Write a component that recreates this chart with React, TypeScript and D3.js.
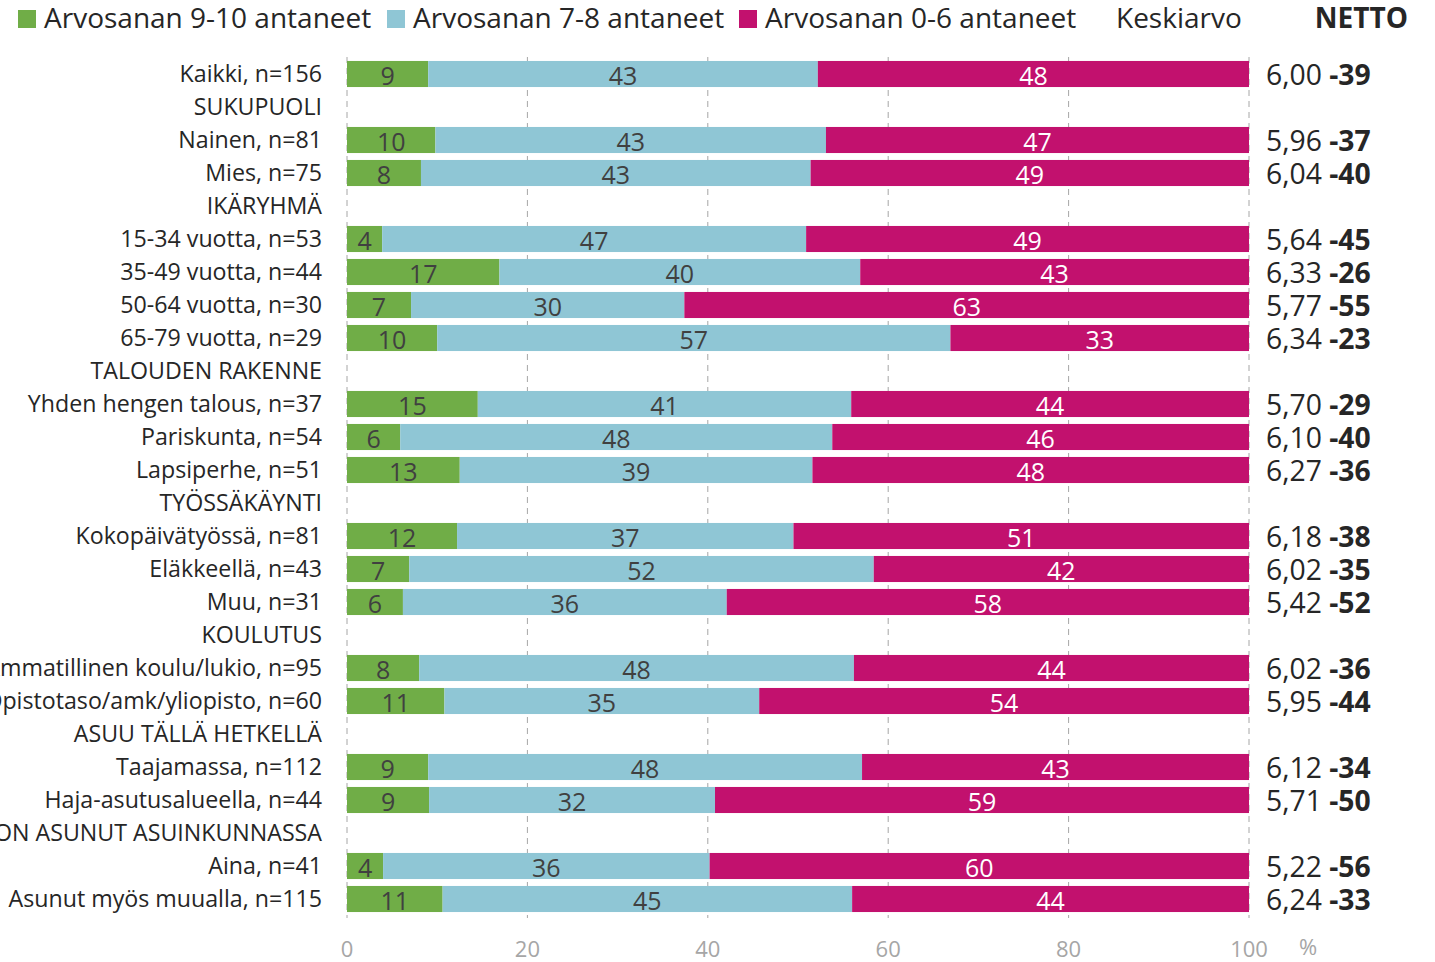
import React from "react";
import * as d3 from "d3";

const rowLabels = [
  "Kaikki, n=156",
  "SUKUPUOLI",
  "Nainen, n=81",
  "Mies, n=75",
  "IKÄRYHMÄ",
  "15-34 vuotta, n=53",
  "35-49 vuotta, n=44",
  "50-64 vuotta, n=30",
  "65-79 vuotta, n=29",
  "TALOUDEN RAKENNE",
  "Yhden hengen talous, n=37",
  "Pariskunta, n=54",
  "Lapsiperhe, n=51",
  "TYÖSSÄKÄYNTI",
  "Kokopäivätyössä, n=81",
  "Eläkkeellä, n=43",
  "Muu, n=31",
  "KOULUTUS",
  "Ammatillinen koulu/lukio, n=95",
  "Opistotaso/amk/yliopisto, n=60",
  "ASUU TÄLLÄ HETKELLÄ",
  "Taajamassa, n=112",
  "Haja-asutusalueella, n=44",
  "ON ASUNUT ASUINKUNNASSA",
  "Aina, n=41",
  "Asunut myös muualla, n=115",
];

const groupHeaders = [
  "SUKUPUOLI",
  "IKÄRYHMÄ",
  "TALOUDEN RAKENNE",
  "TYÖSSÄKÄYNTI",
  "KOULUTUS",
  "ASUU TÄLLÄ HETKELLÄ",
  "ON ASUNUT ASUINKUNNASSA",
];

// values for bar rows, in order of non-header rows
const high = [9.0, 9.8, 8.2, 3.9, 16.9, 7.1, 10.0, 14.5, 5.9, 12.5, 12.2, 6.9, 6.2, 8.0, 10.8, 9.0, 9.1, 4.0, 10.6];
const mid = [43.2, 43.3, 43.2, 47.0, 40.0, 30.3, 56.9, 41.4, 47.9, 39.1, 37.3, 51.5, 35.9, 48.2, 34.9, 48.1, 31.7, 36.2, 45.4];
const low = [47.8, 46.9, 48.6, 49.1, 43.1, 62.6, 33.1, 44.1, 46.2, 48.4, 50.5, 41.6, 57.9, 43.8, 54.3, 42.9, 59.2, 59.8, 44.0];
const means = ["6,00", "5,96", "6,04", "5,64", "6,33", "5,77", "6,34", "5,70", "6,10", "6,27", "6,18", "6,02", "5,42", "6,02", "5,95", "6,12", "5,71", "5,22", "6,24"];
const netto = [-39, -37, -40, -45, -26, -55, -23, -29, -40, -36, -38, -35, -52, -36, -44, -34, -50, -56, -33];

const seriesNames = ["Arvosanan 9-10 antaneet", "Arvosanan 7-8 antaneet", "Arvosanan 0-6 antaneet"];
const seriesColors = ["#70ad47", "#8fc6d5", "#c2116e"];
const labelColors = ["#404040", "#404040", "#ffffff"];
const xTicks = [0, 20, 40, 60, 80, 100];

const FONT = "'Open Sans', sans-serif";

export default function App() {
  const width = 1435;
  const height = 962;
  const x = d3.scaleLinear().domain([0, 100]).range([347, 1249]);
  const y = d3
    .scaleBand<number>()
    .domain(d3.range(rowLabels.length))
    .range([57.5, 915.5])
    .paddingInner(0.21)
    .paddingOuter(0.105);

  const barRows: number[] = [];
  rowLabels.forEach((l, i) => {
    if (!groupHeaders.includes(l)) barRows.push(i);
  });

  const stackData = barRows.map((r, k) => ({ row: r, vals: [high[k], mid[k], low[k]] }));

  const legendItems = [
    { x: 18, name: seriesNames[0], color: seriesColors[0] },
    { x: 387, name: seriesNames[1], color: seriesColors[1] },
    { x: 739, name: seriesNames[2], color: seriesColors[2] },
  ];

  return (
    <svg
      width={width}
      height={height}
      style={{ position: "absolute", left: 0, top: 0, background: "#fff" }}
      fontFamily={FONT}
    >
      {/* legend */}
      {legendItems.map((d) => (
        <g key={d.name}>
          <rect x={d.x} y={10} width={18} height={18} fill={d.color} />
          <text x={d.x + 26} y={28} fontSize={28} fill="#262626">
            {d.name}
          </text>
        </g>
      ))}
      <text x={1116} y={28} fontSize={28} fill="#262626">
        Keskiarvo
      </text>
      <text x={1408} y={28} fontSize={28} fill="#262626" fontWeight="bold" textAnchor="end">
        NETTO
      </text>

      {/* gridlines */}
      {xTicks.map((t) => (
        <line
          key={t}
          x1={x(t)}
          x2={x(t)}
          y1={57}
          y2={918}
          stroke="#a6a6a6"
          strokeWidth={1}
          strokeDasharray="6,5"
        />
      ))}

      {/* row labels */}
      {rowLabels.map((l, i) => (
        <text
          key={l}
          x={322}
          y={(y(i) as number) + y.bandwidth() / 2}
          dy="0.36em"
          textAnchor="end"
          fontSize={23.2}
          fill="#262626"
        >
          {l}
        </text>
      ))}

      {/* bars */}
      {stackData.map((d) => {
        let acc = 0;
        const y0 = y(d.row) as number;
        const bw = y.bandwidth();
        return (
          <g key={d.row}>
            {d.vals.map((v, s) => {
              const x0 = x(acc);
              acc += v;
              const x1 = x(acc);
              return (
                <g key={s}>
                  <rect x={x0} y={y0} width={x1 - x0} height={bw} fill={seriesColors[s]} />
                  <text
                    x={(x0 + x1) / 2}
                    y={y0 + bw / 2}
                    dy="0.42em"
                    textAnchor="middle"
                    fontSize={25}
                    fill={labelColors[s]}
                  >
                    {Math.round(v)}
                  </text>
                </g>
              );
            })}
          </g>
        );
      })}

      {/* mean + netto */}
      {stackData.map((d, k) => (
        <text
          key={d.row}
          x={1266}
          y={(y(d.row) as number) + y.bandwidth() / 2}
          dy="0.4em"
          fontSize={28.3}
          fill="#262626"
        >
          {means[k] + " "}
          <tspan fontWeight="bold">{netto[k]}</tspan>
        </text>
      ))}

      {/* x axis ticks */}
      {xTicks.map((t) => (
        <text key={t} x={x(t)} y={957} textAnchor="middle" fontSize={22} fill="#a6a6a6">
          {t}
        </text>
      ))}
      <text x={1308} y={955} textAnchor="middle" fontSize={22} fill="#a6a6a6">
        %
      </text>
    </svg>
  );
}
